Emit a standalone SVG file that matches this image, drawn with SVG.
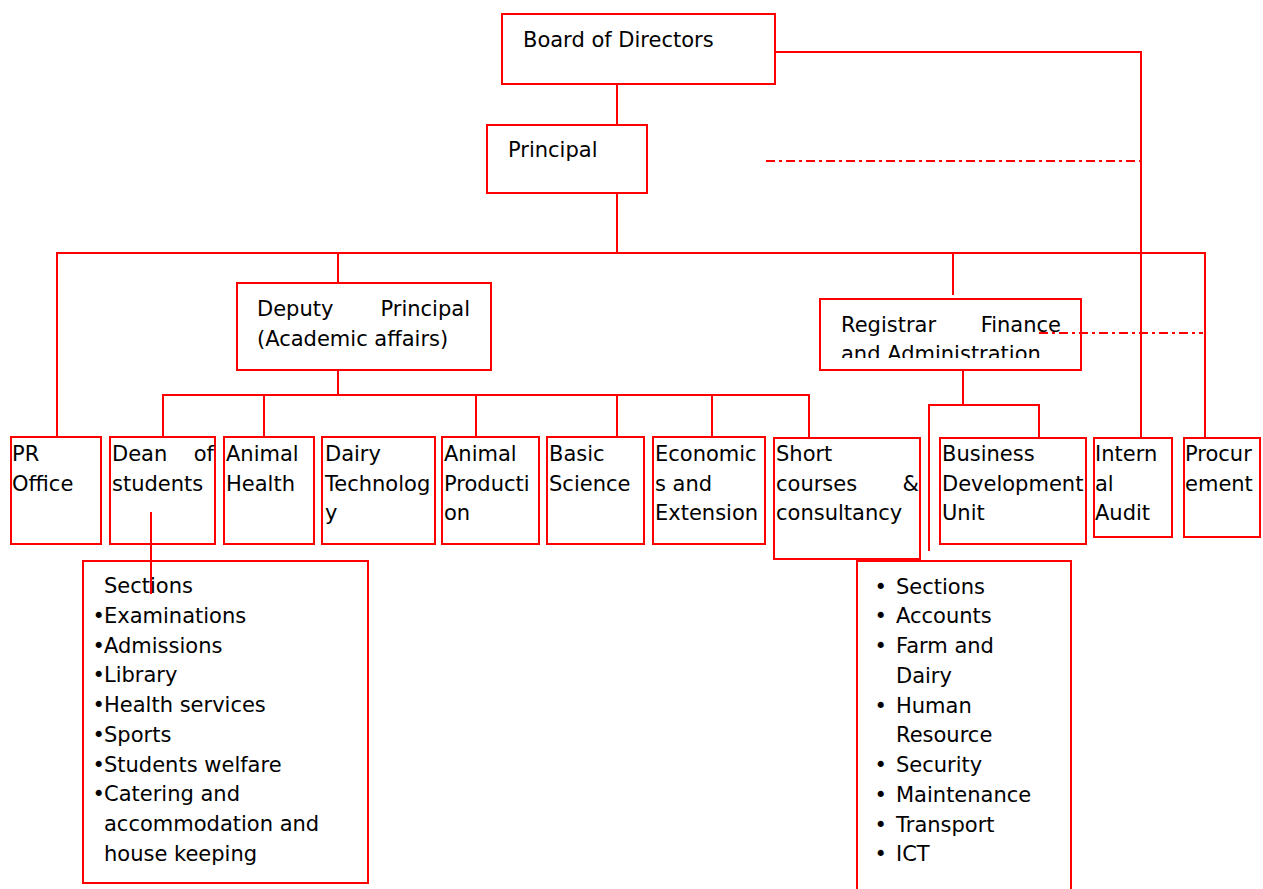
<svg xmlns="http://www.w3.org/2000/svg" width="1263" height="889" viewBox="0 0 1263 889">
<style>
.box{fill:#fff;stroke:#ff0000;stroke-width:2}
.ln{fill:none;stroke:#ff0000;stroke-width:2}
.dd{fill:none;stroke:#ff0000;stroke-width:2;stroke-dasharray:9 4 3 4}
text{font-family:"DejaVu Sans","Verdana",sans-serif;font-size:21px;fill:#000}
.e{text-anchor:end}
</style>
<defs>
<clipPath id="regclip"><rect x="820" y="299" width="262" height="59"/></clipPath>
</defs>
<g id="board">
<rect class="box" x="502" y="14" width="273" height="70"/>
<text x="523" y="47">Board of Directors</text>
</g>
<g id="principal">
<rect class="box" x="487" y="125" width="160" height="68"/>
<text x="508" y="157">Principal</text>
</g>
<g id="deputy">
<rect class="box" x="237" y="283" width="254" height="87"/>
<text x="257" y="316">Deputy</text>
<text class="e" x="470" y="316">Principal</text>
<text x="257" y="346">(Academic affairs)</text>
</g>
<g id="registrar">
<rect class="box" x="820" y="299" width="261" height="71"/>
<g clip-path="url(#regclip)">
<text x="841" y="332">Registrar</text>
<text class="e" x="1061" y="332">Finance</text>
<text x="841" y="361">and Administration</text>
</g>
</g>
<g id="pr-office">
<rect class="box" x="11" y="437" width="90" height="107"/>
<text x="12" y="461">PR</text>
<text x="12" y="490.5">Office</text>
</g>
<g id="dean">
<rect class="box" x="110" y="437" width="105" height="107"/>
<text x="112" y="461">Dean</text>
<text class="e" x="214" y="461">of</text>
<text x="112" y="490.5">students</text>
</g>
<g id="animal-health">
<rect class="box" x="224" y="437" width="90" height="107"/>
<text x="226" y="461">Animal</text>
<text x="226" y="490.5">Health</text>
</g>
<g id="dairy">
<rect class="box" x="322" y="437" width="113" height="107"/>
<text x="325" y="461">Dairy</text>
<text x="325" y="490.5">Technolog</text>
<text x="325" y="520">y</text>
</g>
<g id="animal-production">
<rect class="box" x="442" y="437" width="97" height="107"/>
<text x="444" y="461">Animal</text>
<text x="444" y="490.5">Producti</text>
<text x="444" y="520">on</text>
</g>
<g id="basic-science">
<rect class="box" x="547" y="437" width="97" height="107"/>
<text x="549" y="461">Basic</text>
<text x="549" y="490.5">Science</text>
</g>
<g id="economics">
<rect class="box" x="653" y="437" width="112" height="107"/>
<text x="655" y="461">Economic</text>
<text x="655" y="490.5">s and</text>
<text x="655" y="520">Extension</text>
</g>
<g id="short-courses">
<rect class="box" x="774" y="438" width="146" height="121"/>
<text x="776" y="461">Short</text>
<text x="776" y="490.5">courses</text>
<text class="e" x="919" y="490.5">&amp;</text>
<text x="776" y="520">consultancy</text>
</g>
<g id="bdu">
<rect class="box" x="940" y="438" width="146" height="106"/>
<text x="942" y="461">Business</text>
<text x="942" y="490.5">Development</text>
<text x="942" y="520">Unit</text>
</g>
<g id="internal-audit">
<rect class="box" x="1094" y="438" width="78" height="99"/>
<text x="1095" y="461">Intern</text>
<text x="1095" y="490.5">al</text>
<text x="1095" y="520">Audit</text>
</g>
<g id="procurement">
<rect class="box" x="1184" y="438" width="76" height="99"/>
<text x="1185" y="461">Procur</text>
<text x="1185" y="490.5">ement</text>
</g>
<g id="student-sections">
<rect class="box" x="83" y="561" width="285" height="322"/>
<text x="104" y="593">Sections</text>
<text y="622.7"><tspan x="92.5">•</tspan><tspan x="104">Examinations</tspan></text>
<text y="652.5"><tspan x="92.5">•</tspan><tspan x="104">Admissions</tspan></text>
<text y="682.3"><tspan x="92.5">•</tspan><tspan x="104">Library</tspan></text>
<text y="712"><tspan x="92.5">•</tspan><tspan x="104">Health services</tspan></text>
<text y="741.8"><tspan x="92.5">•</tspan><tspan x="104">Sports</tspan></text>
<text y="771.5"><tspan x="92.5">•</tspan><tspan x="104">Students welfare</tspan></text>
<text y="801.3"><tspan x="92.5">•</tspan><tspan x="104">Catering and</tspan></text>
<text x="104" y="831">accommodation and</text>
<text x="104" y="860.8">house keeping</text>
</g>
<g id="admin-sections">
<path class="box" d="M857,895 V561 H1071 V895"/>
<text y="593.5"><tspan x="874.5">•</tspan><tspan x="896">Sections</tspan></text>
<text y="623.3"><tspan x="874.5">•</tspan><tspan x="896">Accounts</tspan></text>
<text y="653"><tspan x="874.5">•</tspan><tspan x="896">Farm and</tspan></text>
<text x="896" y="682.8">Dairy</text>
<text y="712.5"><tspan x="874.5">•</tspan><tspan x="896">Human</tspan></text>
<text x="896" y="742.3">Resource</text>
<text y="772"><tspan x="874.5">•</tspan><tspan x="896">Security</tspan></text>
<text y="801.8"><tspan x="874.5">•</tspan><tspan x="896">Maintenance</tspan></text>
<text y="831.5"><tspan x="874.5">•</tspan><tspan x="896">Transport</tspan></text>
<text y="861.3"><tspan x="874.5">•</tspan><tspan x="896">ICT</tspan></text>
</g>
<g id="connectors">
<path class="ln" d="M617,84 V125"/>
<path class="ln" d="M775,52 H1141 V438"/>
<path class="ln" d="M617,193 V253"/>
<path class="ln" d="M57,437 V253 H1205 V438"/>
<path class="ln" d="M338,253 V283"/>
<path class="ln" d="M953,253 V295"/>
<path class="ln" d="M338,370 V395"/>
<path class="ln" d="M163,437 V395 H809 V438"/>
<path class="ln" d="M264,395 V437"/>
<path class="ln" d="M476,395 V437"/>
<path class="ln" d="M617,395 V437"/>
<path class="ln" d="M712,395 V437"/>
<path class="ln" d="M963,370 V405"/>
<path class="ln" d="M929,551 V405 H1039 V438"/>
<path class="ln" d="M151,512 V594"/>
<path class="dd" d="M766,161 H1140"/>
<path class="dd" d="M1039,333 H1203"/>
</g>
</svg>
